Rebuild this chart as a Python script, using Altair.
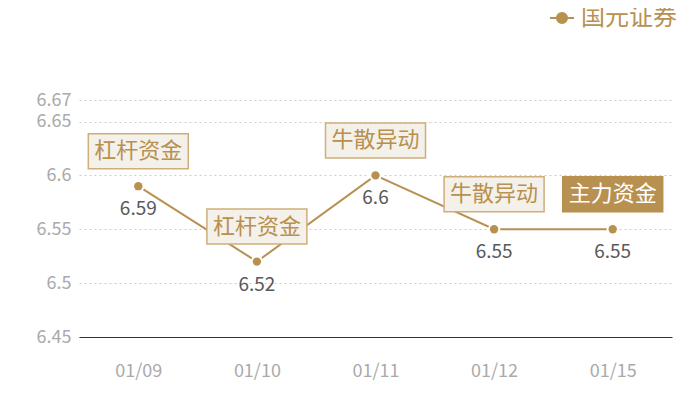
import altair as alt
import pandas as pd

dates = ["01/09", "01/10", "01/11", "01/12", "01/15"]
values = [6.59, 6.52, 6.6, 6.55, 6.55]
value_labels = ["6.59", "6.52", "6.6", "6.55", "6.55"]
tags = ["杠杆资金", "杠杆资金", "牛散异动", "牛散异动", "主力资金"]
highlight = [False, False, False, False, True]
series_name = "国元证券"
y_ticks = [6.45, 6.5, 6.55, 6.6, 6.65, 6.67]

GOLD = "#b8904f"
FONT = "Noto Sans CJK SC"

df = pd.DataFrame({
    "date": dates,
    "value": values,
    "label": value_labels,
    "tag": tags,
    "hl": highlight,
    "series": [series_name] * len(dates),
})

x_enc = alt.X("date:O", sort=dates, scale=alt.Scale(type="point", padding=0.5),
              axis=alt.Axis(title=None, labelAngle=0, ticks=False, labelPadding=25,
                            labelColor="#aaaaaa", labelFontSize=18, labelFont=FONT,
                            domainColor="#333333", domainWidth=1, grid=False))
y_enc = alt.Y("value:Q", scale=alt.Scale(domain=[6.45, 6.67], nice=False, zero=False),
              axis=alt.Axis(title=None, values=y_ticks, format=".3~g", ticks=False,
                            domain=False, labelColor="#aaaaaa", labelFontSize=18,
                            labelFont=FONT, labelPadding=8, grid=True,
                            gridColor="#cccccc", gridDash=[2, 3], gridWidth=1))

base = alt.Chart(df).encode(x=x_enc, y=y_enc)

legend = alt.Legend(title=None, orient="none", legendX=470, legendY=-95,
                    symbolType="M-1,0H1M-0.42,0A0.42,0.42 0 1,0 0.42,0A0.42,0.42 0 1,0 -0.42,0Z",
                    symbolSize=576, symbolStrokeWidth=2, symbolFillColor=GOLD,
                    symbolStrokeColor=GOLD, labelFontSize=24, labelColor=GOLD,
                    labelFont=FONT, labelOffset=6, padding=0, labelLimit=200)

line = base.mark_line(strokeWidth=2).encode(
    color=alt.Color("series:N", scale=alt.Scale(range=[GOLD]), legend=legend)
)

halo = base.mark_circle(size=150, color="white", opacity=1)
dots = base.mark_circle(size=70, color=GOLD, opacity=1)

vals = base.mark_text(dy=23, fontSize=19, font=FONT, color="#595959").encode(text="label:N")

box_path = "M-1,-0.35H1V0.35H-1Z"
boxes = base.mark_point(shape=box_path, size=10000, filled=True, opacity=1,
                        yOffset=-35, strokeWidth=1.5).encode(
    fill=alt.condition("datum.hl", alt.value(GOLD), alt.value("#f4f0ea")),
    stroke=alt.condition("datum.hl", alt.value(GOLD), alt.value("#cfae7a")),
)
box_text = base.mark_text(yOffset=-35, fontSize=22, font=FONT, baseline="middle").encode(
    text="tag:N",
    color=alt.condition("datum.hl", alt.value("white"), alt.value(GOLD)),
)

chart = alt.layer(line, halo, dots, vals, boxes, box_text).properties(
    width=593, height=237,
    padding={"left": 71, "top": 92, "right": 20, "bottom": 55},
    autosize=alt.AutoSizeParams(type="none"),
).configure_view(stroke=None)

chart.save("out.html", embed_options={"renderer": "svg", "actions": False})
